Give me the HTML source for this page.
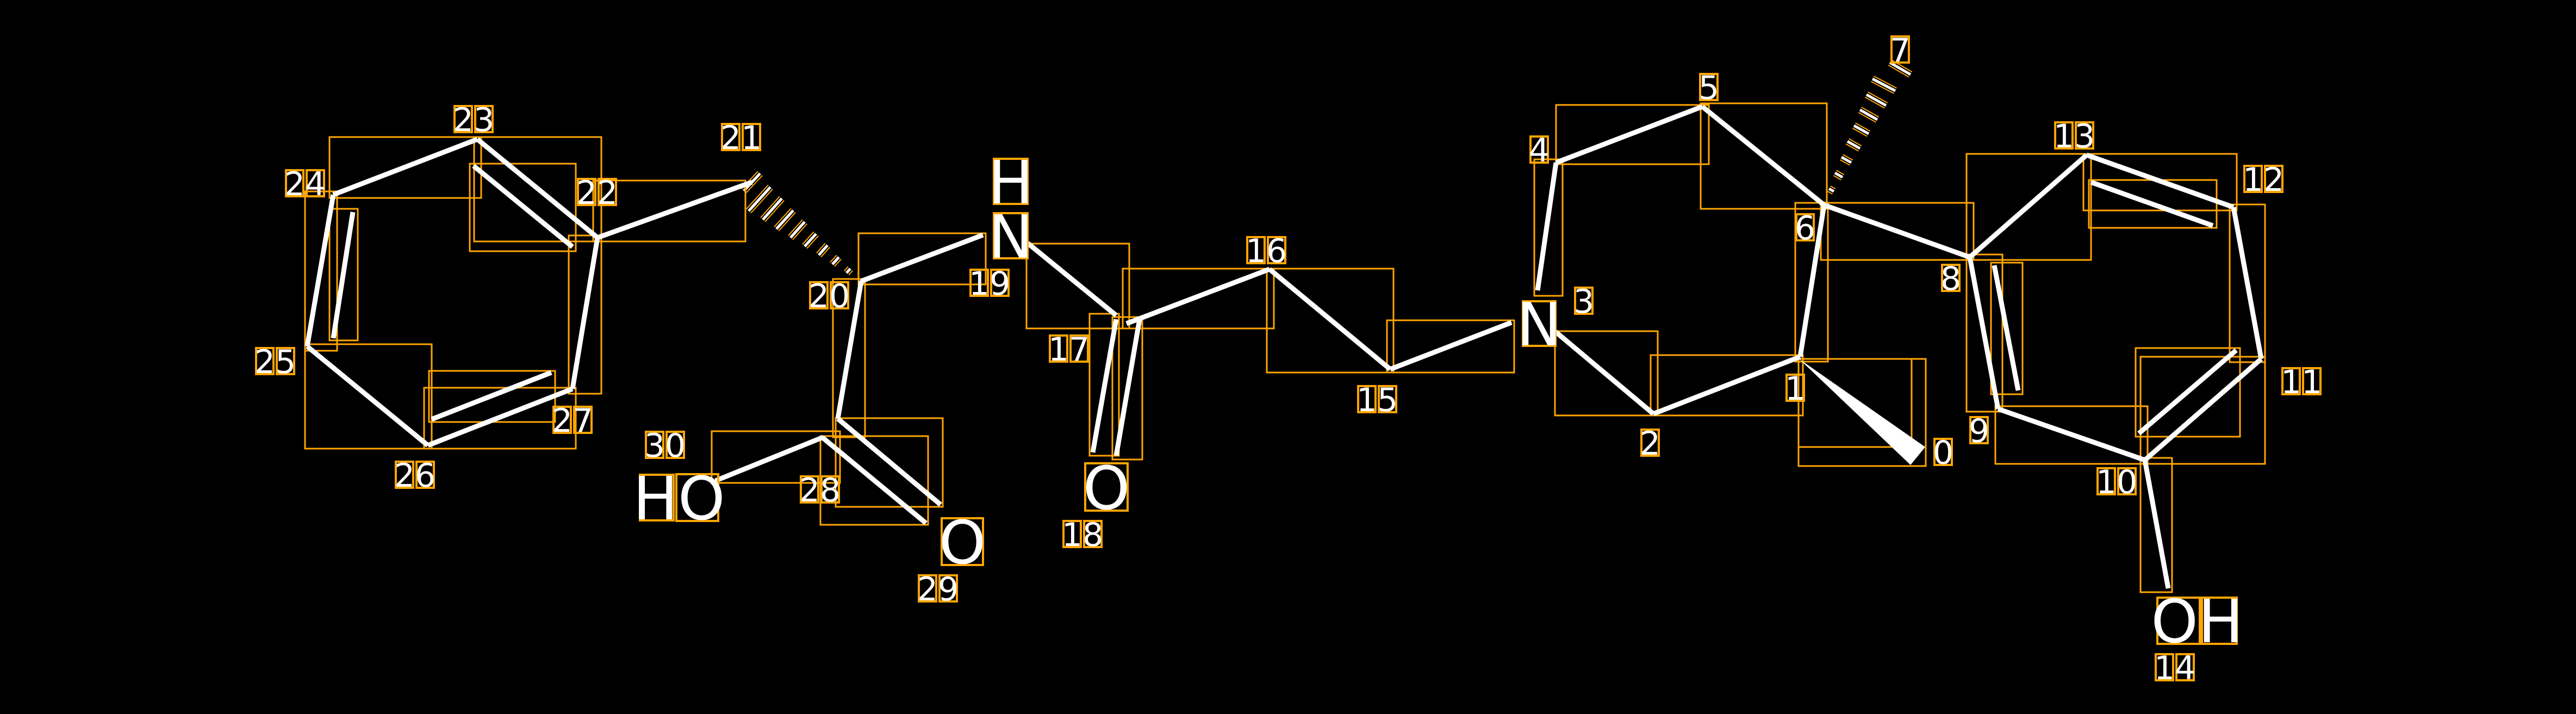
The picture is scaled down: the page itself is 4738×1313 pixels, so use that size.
<!DOCTYPE html>
<html><head><meta charset="utf-8"><style>
html,body{margin:0;padding:0;background:#000;}
svg{display:block;}
text{font-family:"DejaVu Sans","Liberation Sans",sans-serif;fill:#fff;}
</style></head><body>
<svg width="4738" height="1313" viewBox="0 0 4738 1313" xmlns="http://www.w3.org/2000/svg">
<rect width="4738" height="1313" fill="#000"/>
<defs>
<g id="h1">
<line x1="1585" y1="516" x2="1583" y2="518"/><line x1="1564" y1="494" x2="1557" y2="502"/><line x1="1543" y1="473" x2="1531" y2="486"/><line x1="1522" y1="451" x2="1506" y2="469"/><line x1="1501" y1="430" x2="1480" y2="453"/><line x1="1480" y1="408" x2="1454" y2="437"/><line x1="1459" y1="387" x2="1428" y2="421"/><line x1="1438" y1="365" x2="1403" y2="404"/><line x1="1417" y1="344" x2="1377" y2="388"/><line x1="1398" y1="319" x2="1368" y2="351"/>
</g>
<g id="h2">
<line x1="3357" y1="378" x2="3353" y2="376"/><line x1="3373" y1="352" x2="3364" y2="347"/><line x1="3389" y1="326" x2="3375" y2="318"/><line x1="3405" y1="299" x2="3387" y2="289"/><line x1="3421" y1="273" x2="3398" y2="260"/><line x1="3437" y1="246" x2="3410" y2="231"/><line x1="3453" y1="220" x2="3421" y2="202"/><line x1="3469" y1="194" x2="3433" y2="174"/><line x1="3486" y1="167" x2="3444" y2="145"/><line x1="3514" y1="137" x2="3476" y2="115"/>
</g>
</defs>
<g stroke="#FFA500" stroke-width="13"><use href="#h1"/><use href="#h2"/></g>
<g stroke="#000" stroke-width="9"><use href="#h1"/><use href="#h2"/></g>
<g stroke="#fff" stroke-width="5"><use href="#h1"/><use href="#h2"/></g>
<g fill="none" stroke="#FFA500" stroke-width="3">
<rect x="606" y="252" width="279" height="112"/>
<rect x="872" y="252" width="234" height="192"/>
<rect x="864" y="301" width="195" height="161"/>
<rect x="1091" y="332" width="280" height="112"/>
<rect x="1046" y="433" width="60" height="291"/>
<rect x="561" y="352" width="59" height="293"/>
<rect x="606" y="384" width="52" height="242"/>
<rect x="561" y="633" width="233" height="192"/>
<rect x="780" y="713" width="279" height="112"/>
<rect x="789" y="682" width="232" height="94"/>
<rect x="1579" y="429" width="234" height="94"/>
<rect x="1532" y="513" width="59" height="291"/>
<rect x="1537" y="769" width="197" height="163"/>
<rect x="1509" y="802" width="198" height="163"/>
<rect x="1309" y="793" width="236" height="95"/>
<rect x="1888" y="448" width="189" height="156"/>
<rect x="2065" y="494" width="278" height="110"/>
<rect x="2330" y="494" width="233" height="191"/>
<rect x="2551" y="589" width="234" height="96"/>
<rect x="2860" y="609" width="189" height="155"/>
<rect x="3036" y="653" width="280" height="111"/>
<rect x="3302" y="373" width="60" height="292"/>
<rect x="2004" y="577" width="54" height="261"/>
<rect x="2046" y="583" width="55" height="262"/>
<rect x="2822" y="293" width="52" height="251"/>
<rect x="2862" y="193" width="281" height="109"/>
<rect x="3128" y="190" width="232" height="194"/>
<rect x="3349" y="373" width="281" height="105"/>
<rect x="3617" y="283" width="229" height="195"/>
<rect x="3832" y="283" width="282" height="104"/>
<rect x="3842" y="331" width="235" height="88"/>
<rect x="4101" y="376" width="65" height="290"/>
<rect x="3937" y="656" width="229" height="197"/>
<rect x="3928" y="640" width="192" height="163"/>
<rect x="3670" y="747" width="280" height="106"/>
<rect x="3617" y="468" width="66" height="289"/>
<rect x="3662" y="483" width="58" height="242"/>
<rect x="3937" y="842" width="58" height="247"/>
<rect x="3308" y="660" width="234" height="197"/>
<rect x="3308" y="660" width="208" height="162"/>
</g>
<g stroke="#fff" stroke-width="9">
<line x1="613" y1="358" x2="878" y2="256"/>
<line x1="878" y1="256" x2="1099" y2="437"/>
<line x1="871" y1="305" x2="1053" y2="454"/>
<line x1="1099" y1="437" x2="1053" y2="715"/>
<line x1="1053" y1="715" x2="787" y2="819"/>
<line x1="1014" y1="685" x2="794" y2="771"/>
<line x1="787" y1="819" x2="565" y2="637"/>
<line x1="565" y1="637" x2="613" y2="358"/>
<line x1="649" y1="390" x2="613" y2="622"/>
<line x1="1099" y1="437" x2="1383" y2="335"/>
<line x1="1584" y1="517" x2="1808" y2="432"/>
<line x1="1584" y1="517" x2="1541" y2="770"/>
<line x1="1541" y1="770" x2="1730" y2="928"/>
<line x1="1512" y1="804" x2="1703" y2="962"/>
<line x1="1514" y1="804" x2="1316" y2="884"/>
<line x1="1890" y1="447" x2="2053" y2="580"/>
<line x1="2072" y1="595" x2="2335" y2="495"/>
<line x1="2335" y1="495" x2="2557" y2="679"/>
<line x1="2557" y1="679" x2="2780" y2="593"/>
<line x1="2053" y1="587" x2="2010" y2="832"/>
<line x1="2096" y1="587" x2="2053" y2="838"/>
<line x1="2861" y1="610" x2="3041" y2="761"/>
<line x1="3041" y1="761" x2="3311" y2="656"/>
<line x1="3311" y1="656" x2="3355" y2="377"/>
<line x1="2828" y1="534" x2="2862" y2="299"/>
<line x1="2862" y1="299" x2="3131" y2="196"/>
<line x1="3131" y1="196" x2="3355" y2="377"/>
<line x1="3355" y1="377" x2="3623" y2="473"/>
<line x1="3623" y1="473" x2="3838" y2="285"/>
<line x1="3838" y1="285" x2="4108" y2="381"/>
<line x1="3846" y1="335" x2="4070" y2="415"/>
<line x1="4108" y1="381" x2="4159" y2="660"/>
<line x1="4159" y1="660" x2="3945" y2="846"/>
<line x1="4113" y1="644" x2="3934" y2="797"/>
<line x1="3945" y1="846" x2="3675" y2="752"/>
<line x1="3675" y1="752" x2="3623" y2="473"/>
<line x1="3668" y1="488" x2="3712" y2="718"/>
<line x1="3945" y1="846" x2="3988" y2="1082"/>
</g>
<polygon points="3309,660 3541,822 3514,855" fill="#fff"/>
<g fill="none" stroke="#FFA500" stroke-width="4">
<rect x="1828" y="392" width="62" height="83"/>
<rect x="1828" y="292" width="62" height="83"/>
<rect x="1177" y="873" width="62" height="84"/>
<rect x="1244" y="872" width="77" height="86"/>
<rect x="1732" y="953" width="76" height="86"/>
<rect x="1996" y="852" width="78" height="87"/>
<rect x="2801" y="554" width="60" height="82"/>
<rect x="3968" y="1099" width="78" height="85"/>
<rect x="4050" y="1099" width="64" height="85"/>
</g>
<g font-size="110" text-anchor="middle">
<text x="1859" y="474">N</text>
<text x="1859" y="374">H</text>
<text x="1249" y="955">HO</text>
<text x="1770" y="1036">O</text>
<text x="2035" y="936">O</text>
<text x="2831" y="635">N</text>
<text x="4041" y="1181">OH</text>
</g>
<g fill="none" stroke="#FFA500" stroke-width="4">
<rect x="3558" y="807" width="32" height="48"/>
<rect x="3286" y="689" width="32" height="48"/>
<rect x="3019" y="790" width="32" height="48"/>
<rect x="2897" y="529" width="32" height="48"/>
<rect x="2815" y="251" width="32" height="48"/>
<rect x="3127" y="136" width="32" height="48"/>
<rect x="3304" y="394" width="32" height="48"/>
<rect x="3479" y="67" width="32" height="48"/>
<rect x="3572" y="487" width="32" height="48"/>
<rect x="3624" y="767" width="32" height="48"/>
<rect x="3858" y="861" width="32" height="48"/><rect x="3896" y="861" width="32" height="48"/>
<rect x="4198" y="677" width="32" height="48"/><rect x="4236" y="677" width="32" height="48"/>
<rect x="4128" y="305" width="32" height="48"/><rect x="4166" y="305" width="32" height="48"/>
<rect x="3780" y="225" width="32" height="48"/><rect x="3818" y="225" width="32" height="48"/>
<rect x="3965" y="1203" width="32" height="48"/><rect x="4003" y="1203" width="32" height="48"/>
<rect x="2498" y="710" width="32" height="48"/><rect x="2536" y="710" width="32" height="48"/>
<rect x="2294" y="436" width="32" height="48"/><rect x="2332" y="436" width="32" height="48"/>
<rect x="1931" y="617" width="32" height="48"/><rect x="1969" y="617" width="32" height="48"/>
<rect x="1956" y="958" width="32" height="48"/><rect x="1994" y="958" width="32" height="48"/>
<rect x="1785" y="496" width="32" height="48"/><rect x="1823" y="496" width="32" height="48"/>
<rect x="1490" y="519" width="32" height="48"/><rect x="1528" y="519" width="32" height="48"/>
<rect x="1328" y="228" width="32" height="48"/><rect x="1366" y="228" width="32" height="48"/>
<rect x="1063" y="329" width="32" height="48"/><rect x="1101" y="329" width="32" height="48"/>
<rect x="836" y="195" width="32" height="48"/><rect x="874" y="195" width="32" height="48"/>
<rect x="526" y="313" width="32" height="48"/><rect x="564" y="313" width="32" height="48"/>
<rect x="471" y="640" width="32" height="48"/><rect x="509" y="640" width="32" height="48"/>
<rect x="728" y="849" width="32" height="48"/><rect x="766" y="849" width="32" height="48"/>
<rect x="1018" y="748" width="32" height="48"/><rect x="1056" y="748" width="32" height="48"/>
<rect x="1473" y="876" width="32" height="48"/><rect x="1511" y="876" width="32" height="48"/>
<rect x="1690" y="1058" width="32" height="48"/><rect x="1728" y="1058" width="32" height="48"/>
<rect x="1188" y="794" width="32" height="48"/><rect x="1226" y="794" width="32" height="48"/>
</g>
<g font-size="60" text-anchor="middle">
<text x="3574" y="853">0</text>
<text x="3302" y="735">1</text>
<text x="3035" y="836">2</text>
<text x="2913" y="575">3</text>
<text x="2831" y="297">4</text>
<text x="3143" y="182">5</text>
<text x="3320" y="440">6</text>
<text x="3495" y="113">7</text>
<text x="3588" y="533">8</text>
<text x="3640" y="813">9</text>
<text x="3893" y="907">10</text>
<text x="4233" y="723">11</text>
<text x="4163" y="351">12</text>
<text x="3815" y="271">13</text>
<text x="4000" y="1249">14</text>
<text x="2533" y="756">15</text>
<text x="2329" y="482">16</text>
<text x="1966" y="663">17</text>
<text x="1991" y="1004">18</text>
<text x="1820" y="542">19</text>
<text x="1525" y="565">20</text>
<text x="1363" y="274">21</text>
<text x="1098" y="375">22</text>
<text x="871" y="241">23</text>
<text x="561" y="359">24</text>
<text x="506" y="686">25</text>
<text x="763" y="895">26</text>
<text x="1053" y="794">27</text>
<text x="1508" y="922">28</text>
<text x="1725" y="1104">29</text>
<text x="1223" y="840">30</text>
</g>
</svg>
</body></html>
